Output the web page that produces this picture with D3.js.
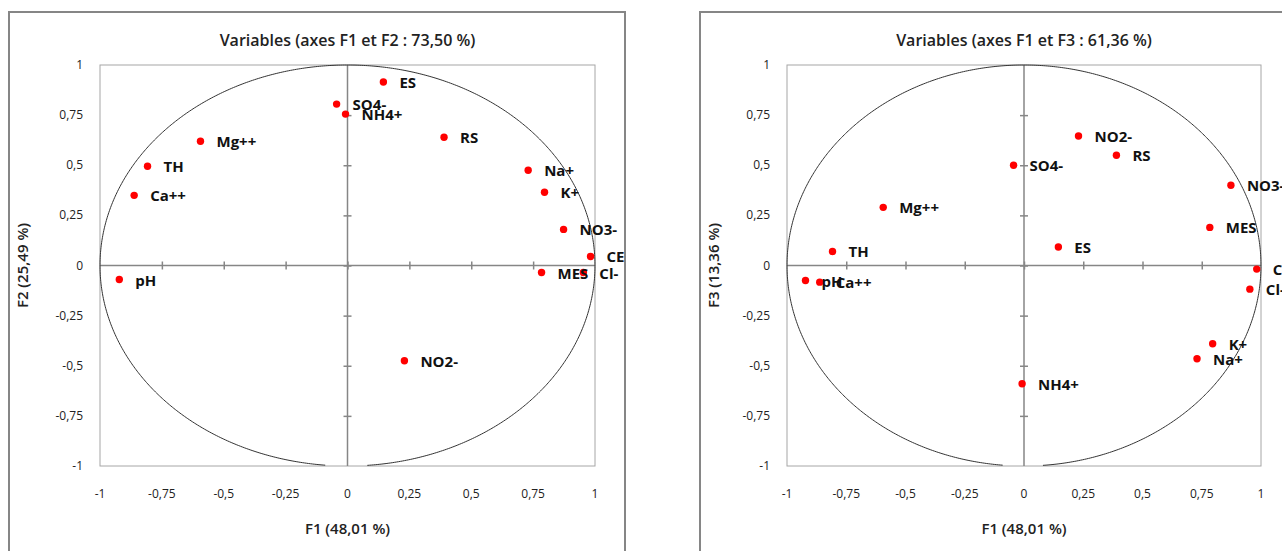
<!DOCTYPE html>
<html>
<head>
<meta charset="utf-8">
<script src="https://cdn.jsdelivr.net/npm/d3@7"></script>
<style>
  html, body { margin: 0; padding: 0; background: #fff; overflow: hidden; }
  svg { display: block; font-family: "Open Sans", "Noto Sans", sans-serif; }
</style>
</head>
<body>
<svg id="chart" width="1282" height="551"></svg>
<script>
// ---- Data ----
const variables = ["ES","SO4-","NH4+","Mg++","RS","TH","Ca++","Na+","K+","NO3-","CE","Cl-","MES","pH","NO2-"];
const f1 = [0.145,-0.044,-0.008,-0.594,0.390,-0.808,-0.862,0.730,0.796,0.873,0.982,0.953,0.784,-0.922,0.230];
const f2 = [0.915,0.805,0.755,0.620,0.640,0.495,0.350,0.475,0.365,0.180,0.045,-0.035,-0.035,-0.070,-0.475];
const f3 = [0.092,0.500,-0.590,0.290,0.550,0.070,-0.083,-0.465,-0.390,0.400,-0.018,-0.118,0.190,-0.075,0.646];
const tickValues = [-1,-0.75,-0.5,-0.25,0,0.25,0.5,0.75,1];
const tickLabels = ["-1","-0,75","-0,5","-0,25","0","0,25","0,5","0,75","1"];
const titles = ["Variables (axes F1 et F2 : 73,50 %)", "Variables (axes F1 et F3 : 61,36 %)"];
const xTitle = "F1 (48,01 %)";
const yTitles = ["F2 (25,49 %)", "F3 (13,36 %)"];

const svg = d3.select("#chart");

function drawPanel(opt) {
  const g = svg.append("g");
  // outer chart frame
  g.append("rect")
    .attr("x", opt.frame[0]).attr("y", opt.frame[1])
    .attr("width", opt.frame[2]).attr("height", opt.frame[3])
    .attr("fill", "#fff").attr("stroke", "#868686").attr("stroke-width", 2);

  const x = d3.scaleLinear().domain([-1, 1]).range([opt.left, opt.right]);
  const y = d3.scaleLinear().domain([-1, 1]).range([opt.bottom, opt.top]);

  // plot area border
  g.append("rect")
    .attr("x", x(-1)).attr("y", y(1))
    .attr("width", x(1) - x(-1)).attr("height", y(-1) - y(1))
    .attr("fill", "none").attr("stroke", "#a6a6a6").attr("stroke-width", 1);

  // zero axes with cross ticks
  const inner = tickValues.filter(v => v > -1 && v < 1);
  const xa = g.append("g").attr("transform", `translate(0,${y(0) - 4})`)
    .call(d3.axisBottom(x).tickValues(inner).tickSize(8).tickFormat(""));
  xa.select(".domain").remove();
  xa.selectAll("line").attr("stroke", "#868686").attr("stroke-width", 1.5);
  g.append("line").attr("x1", x(-1)).attr("x2", x(1)).attr("y1", y(0)).attr("y2", y(0))
    .attr("stroke", "#868686").attr("stroke-width", 1.5);

  const ya = g.append("g").attr("transform", `translate(${x(0) + 4},0)`)
    .call(d3.axisLeft(y).tickValues(inner).tickSize(8).tickFormat(""));
  ya.select(".domain").remove();
  ya.selectAll("line").attr("stroke", "#868686").attr("stroke-width", 1.5);
  g.append("line").attr("x1", x(0)).attr("x2", x(0)).attr("y1", y(-1)).attr("y2", y(1))
    .attr("stroke", "#868686").attr("stroke-width", 1.5);

  // tick labels
  g.selectAll(".xl").data(tickValues).join("text")
    .attr("x", d => x(d)).attr("y", opt.bottom + 32)
    .attr("text-anchor", "middle").attr("font-size", 12).attr("fill", "#222")
    .text((d, i) => tickLabels[i]);
  g.selectAll(".yl").data(tickValues).join("text")
    .attr("x", x(-1) - 17).attr("y", d => y(d) + 4)
    .attr("text-anchor", "end").attr("font-size", 12).attr("fill", "#222")
    .text((d, i) => tickLabels[i]);

  // correlation circle (unit circle drawn through the scales), small gap at bottom
  const tStart = -Math.acos(0.08), tEnd = 2 * Math.PI - Math.acos(-0.09);
  const ts = d3.range(0, 721).map(i => tStart + (i / 720) * (tEnd - tStart));
  g.append("path")
    .attr("d", d3.line().x(t => x(Math.cos(t))).y(t => y(Math.sin(t)))(ts))
    .attr("fill", "none").attr("stroke", "#333").attr("stroke-width", 1);

  // points & labels
  const data = variables.map((v, i) => ({ name: v, a: f1[i], b: opt.ys[i] }));
  g.selectAll("circle.pt").data(data).join("circle")
    .attr("cx", d => x(d.a)).attr("cy", d => y(d.b)).attr("r", 3.7)
    .attr("fill", "#ff0000");
  g.selectAll("text.lab").data(data).join("text")
    .attr("x", d => x(d.a) + 16).attr("y", d => y(d.b) + 6)
    .attr("font-size", 15).attr("font-weight", 700).attr("fill", "#111")
    .text(d => d.name);

  // titles
  g.append("text").attr("x", x(0)).attr("y", 46).attr("text-anchor", "middle")
    .attr("font-size", 16).attr("font-weight", 600).attr("fill", "#222").text(opt.title);
  g.append("text").attr("x", x(0)).attr("y", opt.bottom + 68).attr("text-anchor", "middle")
    .attr("font-size", 15).attr("font-weight", 600).attr("fill", "#222").text(xTitle);
  g.append("text").attr("transform", `translate(${opt.yTitleX},${y(0)}) rotate(-90)`)
    .attr("text-anchor", "middle")
    .attr("font-size", 15).attr("font-weight", 600).attr("fill", "#222").text(opt.yTitle);
}

drawPanel({ frame: [9, 12, 616, 560], left: 100, right: 595, top: 65, bottom: 466,
  ys: f2, title: titles[0], yTitle: yTitles[0], yTitleX: 28 });
drawPanel({ frame: [700, 12, 640, 560], left: 787, right: 1261, top: 65, bottom: 466,
  ys: f3, title: titles[1], yTitle: yTitles[1], yTitleX: 719 });
</script>
</body>
</html>
